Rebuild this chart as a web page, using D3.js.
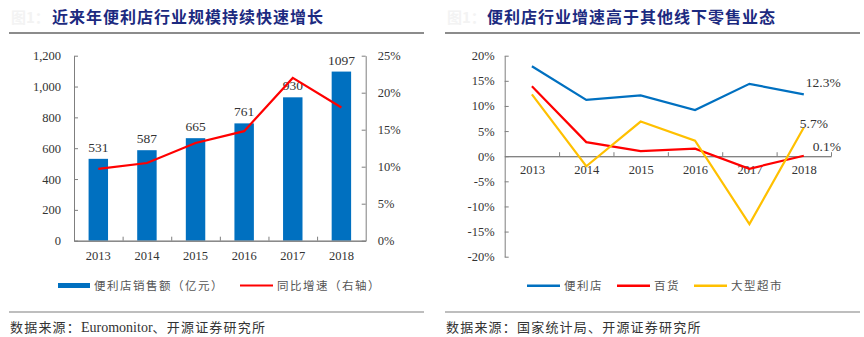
<!DOCTYPE html>
<html>
<head>
<meta charset="utf-8">
<script src="https://cdn.jsdelivr.net/npm/d3@7"></script>
<style>
  body { margin: 0; background: #fff; }
  text { font-family: "Liberation Serif", "Noto Sans CJK SC", serif; }
  .cjk { font-family: "Noto Sans CJK SC", sans-serif; }
</style>
</head>
<body>
<div id="svg-area"></div>
<script>
// data
var years = ["2013", "2014", "2015", "2016", "2017", "2018"];
var salesValues = [531, 587, 665, 761, 930, 1097];         // 便利店销售额（亿元）
var salesGrowth = [9.7, 10.5, 13.2, 14.8, 22.0, 18.0];    // 同比增速（右轴）
var leftTicks = [0, 200, 400, 600, 800, 1000, 1200];
var rightTicks = [0, 5, 10, 15, 20, 25];

var cvsGrowth = [17.9, 11.2, 12.1, 9.2, 14.4, 12.3];       // 便利店
var deptGrowth = [13.9, 2.8, 1.0, 1.5, -2.5, 0.1];         // 百货
var hyperGrowth = [12.3, -2.0, 6.9, 3.1, -13.5, 5.7];      // 大型超市
var pctTicks = [-20, -15, -10, -5, 0, 5, 10, 15, 20];

var svg = d3.select("#svg-area").append("svg")
  .attr("width", 864).attr("height", 337);

var axisColor = "#7f7f7f";
var blue = "#0070C0", red = "#FF0000", yellow = "#FFC000";

function styleAxis(g) {
  g.selectAll("path, line").attr("stroke", axisColor);
  g.selectAll("text").attr("fill", "#333").attr("font-size", 12.5);
}

// ---------- titles / rules ----------
function header(x0, x1, title, tx) {
  svg.append("text").attr("class", "cjk").attr("x", x0 + 2).attr("y", 23)
    .attr("fill", "#f3f3f3").attr("font-size", 15).attr("font-weight", "bold").text("图1：");
  svg.append("text").attr("class", "cjk").attr("x", tx).attr("y", 23)
    .attr("fill", "#1c2a80").attr("font-size", 16).attr("font-weight", "bold")
    .attr("letter-spacing", 1).text(title);
  svg.append("rect").attr("x", x0).attr("y", 32).attr("width", x1 - x0).attr("height", 2)
    .attr("fill", "#8c8c8c");
}
header(9, 424, "近来年便利店行业规模持续快速增长", 52);
header(445, 860, "便利店行业增速高于其他线下零售业态", 487);

function footer(x0, x1, parts) {
  svg.append("rect").attr("x", x0).attr("y", 311.5).attr("width", x1 - x0).attr("height", 1)
    .attr("fill", "#7f7f7f");
  var t = svg.append("text").attr("x", x0 + 1).attr("y", 332)
    .attr("fill", "#333").attr("font-size", 13).attr("letter-spacing", 1.2);
  parts.forEach(function (p) {
    t.append("tspan")
      .style("font-family", p.latin ? "'Liberation Serif', serif" : "'Noto Sans CJK SC', sans-serif")
      .attr("font-size", p.latin ? 14 : 13)
      .attr("letter-spacing", p.latin ? 0 : 1.2)
      .text(p.s);
  });
}
footer(9, 424, [{ s: "数据来源：" }, { s: "Euromonitor", latin: true }, { s: "、开源证券研究所" }]);
footer(445, 860, [{ s: "数据来源：国家统计局、开源证券研究所" }]);

// ---------- left chart ----------
var L = { x0: 74, x1: 365.7, y0: 240.7, y1: 55.7 };

var xBand = d3.scaleBand().domain(years).range([L.x0, L.x1])
  .paddingInner(0.6).paddingOuter(0.3);
var yLeft = d3.scaleLinear().domain([0, 1200]).range([L.y0, L.y1]);
var yRight = d3.scaleLinear().domain([0, 25]).range([L.y0, L.y1]);
var xBound = d3.scaleLinear().domain([0, 6]).range([L.x0, L.x1]);

var left = svg.append("g");

left.selectAll("rect.bar").data(salesValues).join("rect")
  .attr("class", "bar")
  .attr("x", (d, i) => xBand(years[i]))
  .attr("y", d => yLeft(d))
  .attr("width", xBand.bandwidth())
  .attr("height", d => L.y0 - yLeft(d))
  .attr("fill", blue);

left.selectAll("text.val").data(salesValues).join("text")
  .attr("class", "val")
  .attr("x", (d, i) => xBand(years[i]) + xBand.bandwidth() / 2)
  .attr("y", d => yLeft(d) - 7)
  .attr("text-anchor", "middle")
  .attr("font-size", 13.5).attr("fill", "#333")
  .text(d => d);

left.append("path").datum(salesGrowth)
  .attr("fill", "none").attr("stroke", red).attr("stroke-width", 2.2)
  .attr("d", d3.line()
    .x((d, i) => xBand(years[i]) + xBand.bandwidth() / 2)
    .y(d => yRight(d)));

left.append("g").attr("transform", `translate(${L.x0},0)`)
  .call(d3.axisLeft(yLeft).tickValues(leftTicks).tickFormat(d3.format(","))
    .tickSizeInner(-4).tickSizeOuter(0).tickPadding(13))
  .call(styleAxis);

left.append("g").attr("transform", `translate(${L.x1},0)`)
  .call(d3.axisRight(yRight).tickValues(rightTicks).tickFormat(d => d + "%")
    .tickSizeInner(-4).tickSizeOuter(0).tickPadding(12))
  .call(styleAxis);

left.append("g").attr("transform", `translate(0,${L.y0})`)
  .call(d3.axisBottom(xBand).tickSize(0).tickPadding(10))
  .call(styleAxis);

left.append("g").attr("transform", `translate(0,${L.y0})`)
  .call(d3.axisBottom(xBound).tickValues([1, 2, 3, 4, 5]).tickFormat("")
    .tickSizeInner(-4).tickSizeOuter(0))
  .call(styleAxis);

// legend left
left.append("rect").attr("x", 58).attr("y", 283).attr("width", 32).attr("height", 5).attr("fill", blue);
left.append("text").attr("class", "cjk").attr("x", 94).attr("y", 290)
  .attr("font-size", 11.5).attr("letter-spacing", 1.5).attr("fill", "#555").text("便利店销售额（亿元）");
left.append("rect").attr("x", 240).attr("y", 284.5).attr("width", 33).attr("height", 2).attr("fill", red);
left.append("text").attr("class", "cjk").attr("x", 277).attr("y", 290)
  .attr("font-size", 11.5).attr("letter-spacing", 1.5).attr("fill", "#555").text("同比增速（右轴）");

// ---------- right chart ----------
var R = { x0: 504.7, x1: 831, y0: 256.7, y1: 55.7 };

var xPt = d3.scalePoint().domain(years).range([R.x0, R.x1]).padding(0.5);
var yPct = d3.scaleLinear().domain([-20, 20]).range([R.y0, R.y1]);
var xBound2 = d3.scaleLinear().domain([0, 6]).range([R.x0, R.x1]);

var right = svg.append("g");

right.append("g").attr("transform", `translate(${R.x0},0)`)
  .call(d3.axisLeft(yPct).tickValues(pctTicks).tickFormat(d => d + "%")
    .tickSizeInner(-4).tickSizeOuter(0).tickPadding(10))
  .call(styleAxis);

right.append("g").attr("transform", `translate(0,${yPct(0)})`)
  .call(d3.axisBottom(xPt).tickSize(0).tickPadding(9))
  .call(styleAxis);

right.append("g").attr("transform", `translate(0,${yPct(0)})`)
  .call(d3.axisBottom(xBound2).tickValues([1, 2, 3, 4, 5, 6]).tickFormat("")
    .tickSizeInner(-4).tickSizeOuter(0))
  .call(styleAxis);

var series = [
  { name: "便利店", values: cvsGrowth, color: blue },
  { name: "百货", values: deptGrowth, color: red },
  { name: "大型超市", values: hyperGrowth, color: yellow }
];

var line2 = d3.line().x((d, i) => xPt(years[i])).y(d => yPct(d));

right.selectAll("path.series").data(series).join("path")
  .attr("class", "series")
  .attr("fill", "none").attr("stroke", d => d.color).attr("stroke-width", 2.2)
  .attr("d", d => line2(d.values));

// end labels
var endLabels = [
  { v: cvsGrowth[5], dx: 2, dy: -7 },
  { v: hyperGrowth[5], dx: -4, dy: 0 },
  { v: deptGrowth[5], dx: 9, dy: -5 }
];
right.selectAll("text.end").data(endLabels).join("text")
  .attr("class", "end")
  .attr("x", d => xPt("2018") + d.dx)
  .attr("y", d => yPct(d.v) + d.dy)
  .attr("font-size", 13.5).attr("fill", "#333")
  .text(d => d3.format(".1f")(d.v) + "%");

// legend right
var legX = [527, 617, 694];
series.forEach(function (s, i) {
  right.append("rect").attr("x", legX[i]).attr("y", 284.5).attr("width", 33).attr("height", 2.5).attr("fill", s.color);
  right.append("text").attr("class", "cjk").attr("x", legX[i] + 37).attr("y", 290)
    .attr("font-size", 11.5).attr("letter-spacing", 1.5).attr("fill", "#555").text(s.name);
});
</script>
</body>
</html>
